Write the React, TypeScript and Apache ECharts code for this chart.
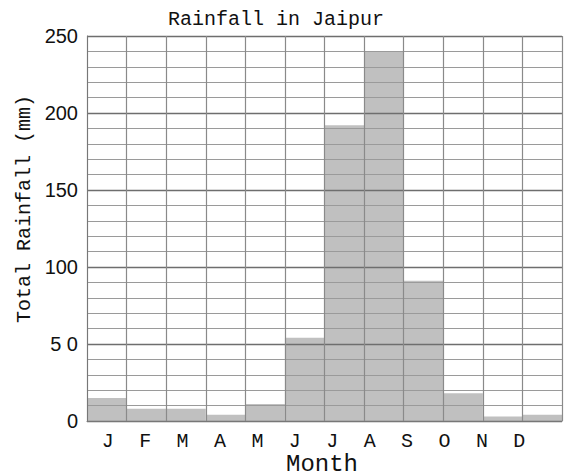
import React, { useEffect, useRef } from "react";
import * as echarts from "echarts";

const months = ["J", "F", "M", "A", "M", "J", "J", "A", "S", "O", "N", "D"];
const rainfall = [15, 8, 8, 4, 11, 54, 192, 240, 91, 18, 3, 4];
const yTickValues = [0, 50, 100, 150, 200, 250];
const yTickLabels = ["0", "5 0", "100", "150", "200", "250"];
const titleText = "Rainfall in Jaipur";
const xTitle = "Month";
const yTitle = "Total Rainfall (mm)";

const mono = "'Liberation Mono', 'DejaVu Sans Mono', monospace";
const sans = "'Liberation Sans', Arial, sans-serif";

export default function App() {
  const ref = useRef<HTMLDivElement>(null);
  useEffect(() => {
    if (!ref.current) return;
    const chart = echarts.init(ref.current, null, { renderer: "svg" });
    chart.setOption({
      animation: false,
      backgroundColor: "#ffffff",
      title: {
        text: titleText,
        left: 168,
        top: 9,
        padding: 0,
        textStyle: { fontFamily: mono, fontSize: 20, fontWeight: "normal", color: "#111" },
      },
      graphic: [
        {
          type: "text",
          x: 24,
          y: 209,
          rotation: Math.PI / 2,
          style: {
            text: yTitle,
            font: `20px ${mono}`,
            fill: "#111",
            textAlign: "center",
            textVerticalAlign: "middle",
          },
        },
        {
          type: "text",
          x: 322,
          y: 464,
          style: {
            text: xTitle,
            font: `24px ${mono}`,
            fill: "#111",
            textAlign: "center",
            textVerticalAlign: "middle",
          },
        },
      ],
      grid: [
        { left: 87, top: 36, width: 475, height: 385 },
        { left: 89, top: 36, width: 449, height: 385 },
      ],
      xAxis: [
        {
          type: "category",
          gridIndex: 0,
          data: months,
          z: 5,
          axisLine: { show: true, lineStyle: { color: "#777", width: 1 } },
          axisTick: { show: false },
          axisLabel: { show: false },
          splitLine: { show: true, interval: 0, lineStyle: { color: "#8a8a8a", width: 1.2 } },
        },
        {
          type: "category",
          gridIndex: 1,
          data: months,
          axisLine: { show: false },
          axisTick: { show: false },
          splitLine: { show: false },
          axisLabel: {
            show: true,
            interval: 0,
            margin: 10,
            fontFamily: mono,
            fontSize: 20,
            color: "#111",
          },
        },
      ],
      yAxis: [
        {
          type: "value",
          gridIndex: 0,
          min: 0,
          max: 250,
          interval: 50,
          z: 5,
          axisLine: { show: true, lineStyle: { color: "#777", width: 1 } },
          axisTick: { show: false },
          axisLabel: {
            margin: 9,
            fontFamily: sans,
            fontSize: 20,
            color: "#111",
            formatter: (v: number) => {
              const i = yTickValues.indexOf(v);
              return i >= 0 ? yTickLabels[i] : "";
            },
          },
          splitLine: { show: true, lineStyle: { color: "#6e6e6e", width: 1.4 } },
          minorTick: { show: false, splitNumber: 5 },
          minorSplitLine: { show: true, lineStyle: { color: "#9a9a9a", width: 1.2 } },
        },
        {
          type: "value",
          gridIndex: 1,
          show: false,
          min: 0,
          max: 250,
        },
      ],
      series: [
        {
          type: "bar",
          xAxisIndex: 0,
          yAxisIndex: 0,
          data: rainfall,
          barCategoryGap: "0%",
          itemStyle: { color: "#c0c0c0" },
          z: 2,
        },
      ],
    });
    return () => chart.dispose();
  }, []);
  return (
    <div
      ref={ref}
      style={{ position: "fixed", left: 0, top: 0, width: 565, height: 476 }}
    />
  );
}
